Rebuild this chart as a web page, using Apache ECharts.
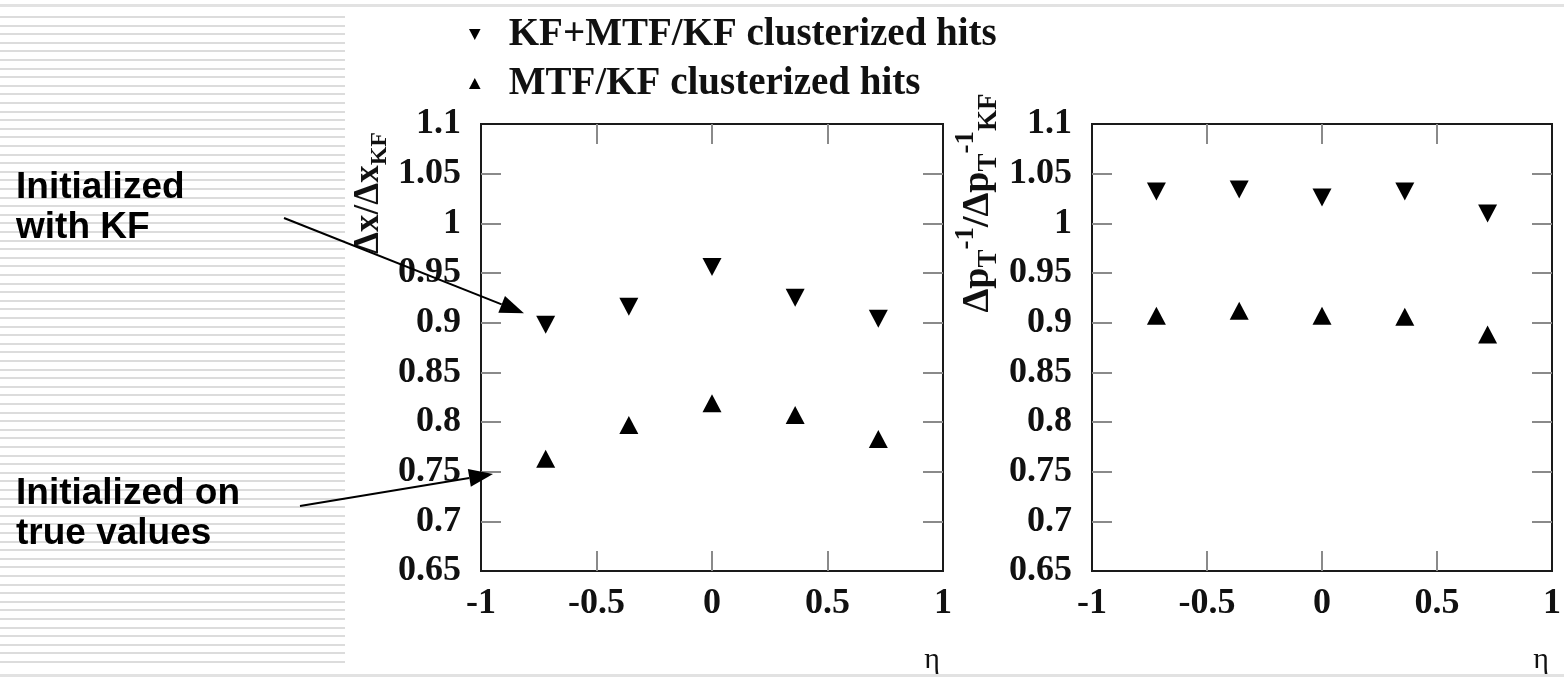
<!DOCTYPE html>
<html>
<head>
<meta charset="utf-8">
<script src="https://cdn.jsdelivr.net/npm/echarts@6/dist/echarts.min.js"></script>
<style>
  html, body { margin: 0; padding: 0; background: #ffffff; }
  #chart { width: 1564px; height: 679px; }
</style>
</head>
<body>
<div id="chart"></div>
<script>
// Pseudorapidity bin centres
const etaValues = [-0.72, -0.36, 0, 0.36, 0.72];

// Position resolution ratio Δx/Δx_KF
const dxKfMtf = [0.898, 0.916, 0.956, 0.925, 0.904];
const dxMtf = [0.763, 0.797, 0.819, 0.807, 0.783];

// Inverse transverse momentum resolution ratio
const dptKfMtf = [1.032, 1.034, 1.026, 1.032, 1.010];
const dptMtf = [0.907, 0.912, 0.907, 0.906, 0.888];

const seriesNames = ['KF+MTF/KF clusterized hits', 'MTF/KF clusterized hits'];
const xTickLabels = ['-1', '-0.5', '0', '0.5', '1'];
const yTickLabels = ['0.65', '0.7', '0.75', '0.8', '0.85', '0.9', '0.95', '1', '1.05', '1.1'];
// Inner tick positions (the frame itself covers the end ticks)
const xInnerTicks = [-0.5, 0, 0.5];
const yInnerTicks = [0.7, 0.75, 0.8, 0.85, 0.9, 0.95, 1, 1.05];

const X_MIN = -1, X_MAX = 1, X_STEP = 0.5;
const Y_MIN = 0.65, Y_MAX = 1.1, Y_STEP = 0.05;

const SERIF = '"Liberation Serif", "Times New Roman", serif';
const SANS = '"Liberation Sans", Arial, sans-serif';
const DOWN_TRI = 'path://M0,0L20,0L10,19Z';
const UP_TRI = 'path://M10,0L20,19L0,19Z';

const chart = echarts.init(document.getElementById('chart'), null, { renderer: 'canvas' });

const pairs = (ys) => etaValues.map((x, i) => [x, ys[i]]);

const tickLine = { color: '#8a8a8a', width: 2 };

function makeX(gridIndex, position, withLabels) {
  return {
    type: 'value', gridIndex, position,
    min: X_MIN, max: X_MAX, interval: X_STEP,
    axisLine: { show: false, onZero: false },
    axisTick: { inside: true, length: 20, lineStyle: tickLine, customValues: xInnerTicks },
    splitLine: { show: false },
    axisLabel: withLabels ? {
      show: true, margin: 15, color: '#111',
      fontFamily: SERIF, fontWeight: 'bold', fontSize: 36,
      formatter: (v) => xTickLabels[Math.round((v - X_MIN) / X_STEP)]
    } : { show: false },
    name: withLabels ? 'η' : '',
    nameLocation: 'end', nameGap: -11,
    nameTextStyle: { fontFamily: SERIF, fontSize: 30, color: '#111', align: 'center', verticalAlign: 'top', padding: [74, 0, 0, 0] }
  };
}

function makeY(gridIndex, position, withLabels) {
  return {
    type: 'value', gridIndex, position,
    min: Y_MIN, max: Y_MAX, interval: Y_STEP,
    axisLine: { show: false, onZero: false },
    axisTick: { inside: true, length: 20, lineStyle: tickLine, customValues: yInnerTicks },
    splitLine: { show: false },
    axisLabel: withLabels ? {
      show: true, margin: 20, color: '#111',
      fontFamily: SERIF, fontWeight: 'bold', fontSize: 36,
      formatter: (v) => yTickLabels[Math.round((v - Y_MIN) / Y_STEP)]
    } : { show: false }
  };
}

function scatter(name, data, xi, yi, symbol) {
  return {
    type: 'scatter', name, data, xAxisIndex: xi, yAxisIndex: yi,
    symbol, symbolSize: [19, 18],
    itemStyle: { color: '#000', opacity: 1 },
    emphasis: { disabled: true },
    silent: true
  };
}

// Striped decoration on the left side
const stripes = [];
for (let y = 16; y < 668; y += 8.6) {
  stripes.push({
    type: 'rect', silent: true,
    shape: { x: 0, y: Math.round(y), width: 345, height: 2 },
    style: { fill: '#dcdcdc' }
  });
}

const option = {
  backgroundColor: '#ffffff',
  animation: false,
  grid: [
    { left: 481, top: 124, width: 462, height: 447, show: true, borderColor: '#1a1a1a', borderWidth: 2, backgroundColor: 'transparent' },
    { left: 1092, top: 124, width: 463, height: 447, show: true, borderColor: '#1a1a1a', borderWidth: 2, backgroundColor: 'transparent' }
  ],
  xAxis: [
    makeX(0, 'bottom', true), makeX(0, 'top', false),
    makeX(1, 'bottom', true), makeX(1, 'top', false)
  ],
  yAxis: [
    makeY(0, 'left', true), makeY(0, 'right', false),
    makeY(1, 'left', true), makeY(1, 'right', false)
  ],
  legend: {
    orient: 'vertical', left: 464, top: 10,
    itemWidth: 58, itemHeight: 11, itemGap: 10,
    selectedMode: false,
    itemStyle: { color: '#000', opacity: 1 },
    textStyle: { fontFamily: SERIF, fontWeight: 'bold', fontSize: 39, color: '#111', lineHeight: 38 },
    data: [
      { name: seriesNames[0], icon: DOWN_TRI },
      { name: seriesNames[1], icon: UP_TRI }
    ]
  },
  series: [
    scatter(seriesNames[0], pairs(dxKfMtf), 0, 0, DOWN_TRI),
    scatter(seriesNames[1], pairs(dxMtf), 0, 0, UP_TRI),
    scatter(seriesNames[0], pairs(dptKfMtf), 2, 2, DOWN_TRI),
    scatter(seriesNames[1], pairs(dptMtf), 2, 2, UP_TRI)
  ],
  graphic: []
};

chart.setOption(option);

// Annotation arrows: tails sit by the captions, heads point into the left panel
function arrow(id, from, toData) {
  const to = chart.convertToPixel({ gridIndex: 0 }, toData);
  const ang = Math.atan2(to[1] - from[1], to[0] - from[0]);
  const L = 24, W = 9;
  const bx = to[0] - L * Math.cos(ang), by = to[1] - L * Math.sin(ang);
  const nx = -Math.sin(ang) * W, ny = Math.cos(ang) * W;
  return [
    { type: 'line', id: id + '-l', silent: true, shape: { x1: from[0], y1: from[1], x2: bx, y2: by }, style: { stroke: '#000', lineWidth: 2 }, z: 20 },
    { type: 'polygon', id: id + '-h', silent: true, shape: { points: [to, [bx + nx, by + ny], [bx - nx, by - ny]] }, style: { fill: '#000' }, z: 20 }
  ];
}

const captionStyle = { font: 'bold 37px ' + SANS, fill: '#000', lineHeight: 40 };

const graphics = [
  { type: 'rect', silent: true, shape: { x: 0, y: 4, width: 1564, height: 3 }, style: { fill: '#e2e2e2' }, z: 0 },
  { type: 'rect', silent: true, shape: { x: 0, y: 674, width: 1564, height: 3 }, style: { fill: '#e2e2e2' }, z: 0 },
  ...stripes,
  { type: 'text', silent: true, left: 16, top: 168, style: Object.assign({ text: 'Initialized\nwith KF' }, captionStyle), z: 10 },
  { type: 'text', silent: true, left: 16, top: 474, style: Object.assign({ text: 'Initialized on\ntrue values' }, captionStyle), z: 10 },
  ...arrow('a1', [284, 218], [-0.814, 0.9095]),
  ...arrow('a2', [300, 506], [-0.948, 0.7476]),
  // Axis titles, rotated to read upward
  {
    type: 'text', silent: true, x: 369, y: 193, rotation: Math.PI / 2, z: 10,
    style: {
      text: '{m|Δx/Δx}{s|KF}', align: 'center', verticalAlign: 'middle', fill: '#111',
      rich: {
        m: { fontFamily: SERIF, fontWeight: 'bold', fontSize: 35, lineHeight: 46, fill: '#111' },
        s: { fontFamily: SERIF, fontWeight: 'bold', fontSize: 24, lineHeight: 24, verticalAlign: 'bottom', fill: '#111' }
      }
    }
  },
  {
    type: 'text', silent: true, x: 978, y: 203, rotation: Math.PI / 2, z: 10,
    style: {
      text: '{m|Δp}{s|T}{p|-1}{m|/Δp}{s|T}{p|-1}{s|KF}', align: 'center', verticalAlign: 'middle', fill: '#111',
      rich: {
        m: { fontFamily: SERIF, fontWeight: 'bold', fontSize: 38, lineHeight: 50, fill: '#111' },
        s: { fontFamily: SERIF, fontWeight: 'bold', fontSize: 27, lineHeight: 27, verticalAlign: 'bottom', fill: '#111' },
        p: { fontFamily: SERIF, fontWeight: 'bold', fontSize: 27, lineHeight: 27, verticalAlign: 'top', fill: '#111' }
      }
    }
  }
];

chart.setOption({ graphic: graphics });
</script>
</body>
</html>
